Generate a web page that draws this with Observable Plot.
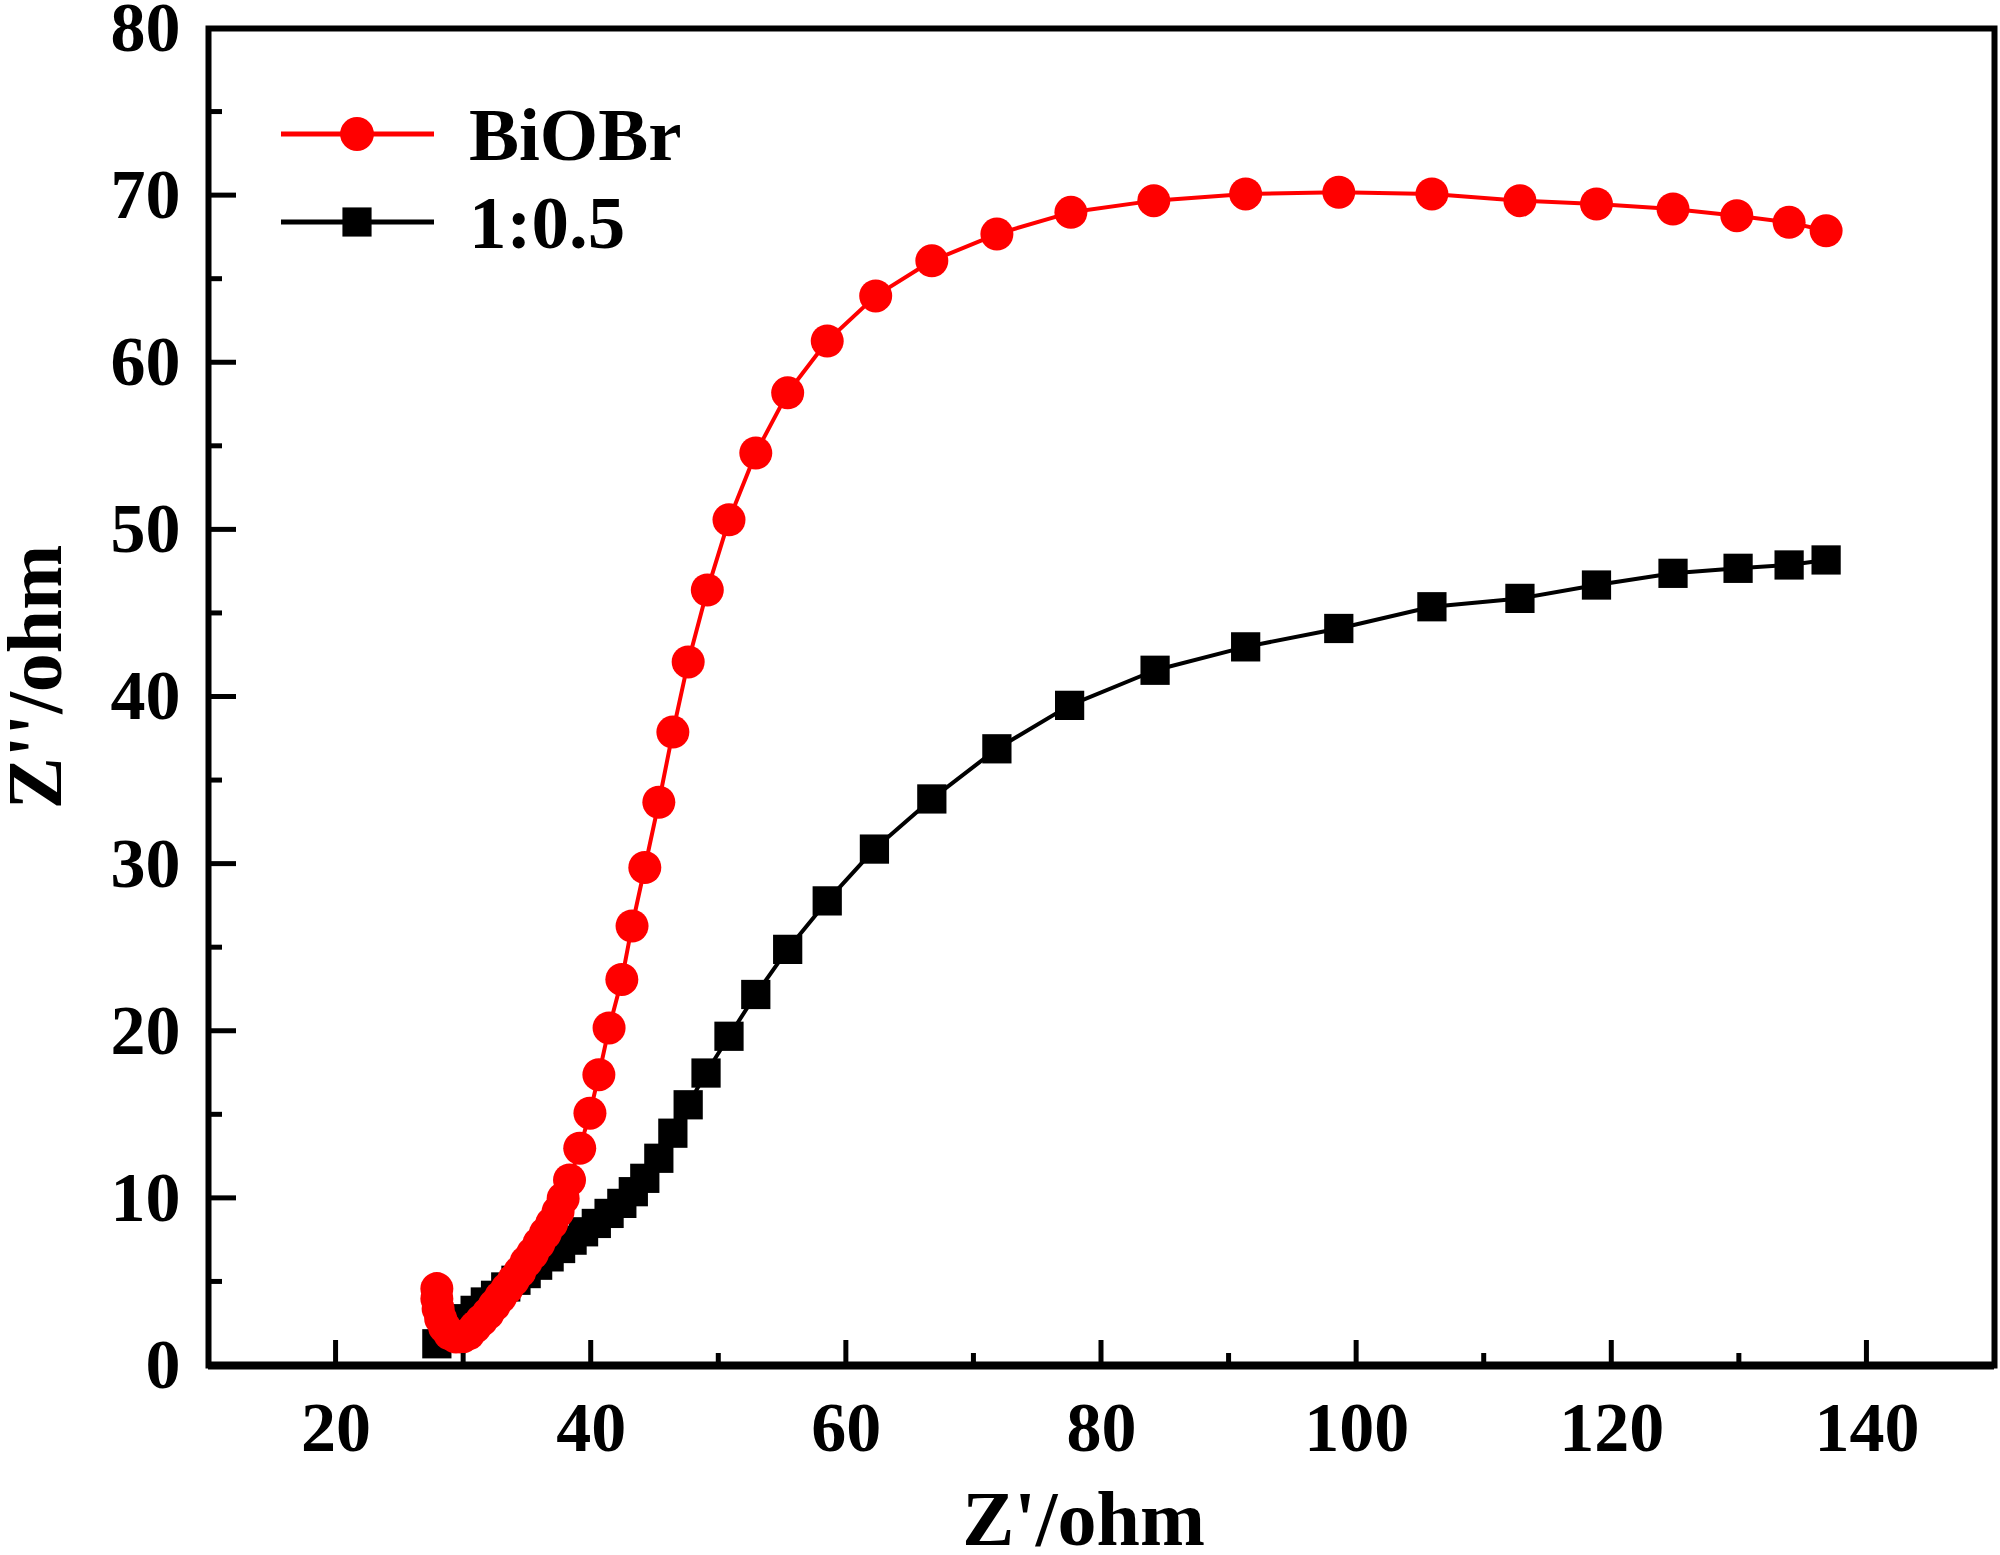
<!DOCTYPE html>
<html><head><meta charset="utf-8">
<script src="https://cdn.jsdelivr.net/npm/d3@7"></script>
<script src="https://cdn.jsdelivr.net/npm/@observablehq/plot@0.6"></script>
<style>body{margin:0;background:#fff}</style>
</head><body><div id="chart"></div>
<script>
const seriesNames = ["BiOBr", "1:0.5"];
const seriesColors = ["#ff0000", "#000000"];
const seriesSymbols = ["circle", "square"];

const biobrX = [27.9,27.9,28.0,28.2,28.5,28.9,29.4,29.9,30.4,30.9,31.4,31.9,32.4,32.9,33.4,33.9,34.4,34.9,35.4,35.9,36.4,36.9,37.4,37.8,38.3,39.1,39.9,40.6,41.4,42.4,43.2,44.2,45.3,46.4,47.6,49.1,50.8,52.9,55.4,58.5,62.3,66.7,71.8,77.6,84.1,91.3,98.6,105.9,112.8,118.8,124.8,129.8,133.9,136.8];
const biobrY = [4.6,4.0,3.4,2.8,2.3,1.9,1.7,1.7,1.9,2.3,2.7,3.1,3.6,4.1,4.6,5.1,5.6,6.2,6.7,7.3,7.9,8.5,9.2,10.0,11.1,13.0,15.1,17.4,20.2,23.1,26.3,29.8,33.7,37.9,42.1,46.4,50.6,54.6,58.2,61.3,64.0,66.1,67.7,69.0,69.7,70.1,70.2,70.1,69.7,69.5,69.2,68.8,68.4,67.9];

const ratioX = [27.9,28.5,29.3,30.1,30.9,31.7,32.5,33.3,34.1,34.9,35.8,36.7,37.6,38.5,39.4,40.4,41.4,42.4,43.3,44.2,45.3,46.4,47.6,49.0,50.8,52.9,55.4,58.5,62.2,66.7,71.8,77.5,84.2,91.3,98.6,105.9,112.8,118.8,124.8,129.9,133.9,136.8];
const ratioY = [1.3,1.8,2.3,2.8,3.3,3.8,4.2,4.7,5.1,5.5,6.0,6.5,7.0,7.5,8.0,8.5,9.1,9.7,10.4,11.2,12.4,13.9,15.6,17.5,19.7,22.2,24.9,27.8,30.9,33.9,36.9,39.5,41.6,43.0,44.1,45.4,45.9,46.7,47.4,47.7,47.9,48.2];

const xTicks = [20, 40, 60, 80, 100, 120, 140];
const xMinorTicks = [30, 50, 70, 90, 110, 130];
const yTicks = [0, 10, 20, 30, 40, 50, 60, 70, 80];
const yMajorInner = [10, 20, 30, 40, 50, 60, 70];
const yMinorTicks = [5, 15, 25, 35, 45, 55, 65, 75];
const xDomain = [10, 150];
const yDomain = [0, 80];
const xLabel = "Z'/ohm";
const yLabel = "Z''/ohm";

const biobr = biobrX.map((x, i) => ({x, y: biobrY[i]}));
const ratio = ratioX.map((x, i) => ({x, y: ratioY[i]}));

function innerTicks(index, scales) {
  const g = d3.create("svg:g").attr("stroke", "#000").attr("stroke-width", 5);
  const yb = scales.y(yDomain[0]), xl = scales.x(xDomain[0]);
  for (const t of xTicks) g.append("line").attr("x1", scales.x(t)).attr("x2", scales.x(t)).attr("y1", yb).attr("y2", yb - 25);
  for (const t of xMinorTicks) g.append("line").attr("x1", scales.x(t)).attr("x2", scales.x(t)).attr("y1", yb).attr("y2", yb - 12);
  for (const t of yMajorInner) g.append("line").attr("y1", scales.y(t)).attr("y2", scales.y(t)).attr("x1", xl).attr("x2", xl + 28);
  for (const t of yMinorTicks) g.append("line").attr("y1", scales.y(t)).attr("y2", scales.y(t)).attr("x1", xl).attr("x2", xl + 14);
  return g.node();
}

function legend(index, scales, values, dims) {
  const g = d3.create("svg:g");
  const x0 = dims.marginLeft + 73, rowY = [dims.marginTop + 106, dims.marginTop + 194];
  seriesNames.forEach((name, i) => {
    const y = rowY[i];
    g.append("line").attr("x1", x0).attr("x2", x0 + 153).attr("y1", y).attr("y2", y)
      .attr("stroke", seriesColors[i]).attr("stroke-width", 5);
    g.append("path").attr("transform", `translate(${x0 + 76},${y})`)
      .attr("d", d3.symbol(seriesSymbols[i] === "circle" ? d3.symbolCircle : d3.symbolSquare, seriesSymbols[i] === "circle" ? 900 : 850)())
      .attr("fill", seriesColors[i]);
    g.append("text").attr("x", x0 + 188).attr("y", y).attr("dy", "0.35em")
      .attr("text-anchor", "start")
      .attr("fill", "#000").attr("font-size", 75).text(name);
  });
  return g.node();
}

const chart = Plot.plot({
  width: 2000,
  height: 1555,
  marginLeft: 208,
  marginRight: 6,
  marginTop: 28,
  marginBottom: 190,
  style: {fontFamily: "'Liberation Serif', 'Times New Roman', serif", fontWeight: "bold", fontSize: "70px", background: "#fff", color: "#000"},
  x: {domain: xDomain},
  y: {domain: yDomain},
  marks: [
    Plot.axisX({ticks: xTicks, tickSize: 0, tickPadding: 36, label: null}),
    Plot.axisY({ticks: yTicks, tickSize: 0, tickPadding: 28, label: null}),
    Plot.text([xLabel], {frameAnchor: "bottom", dx: -18, dy: 155, lineAnchor: "middle", textAnchor: "middle", fontSize: 78, text: d => d}),
    Plot.text([yLabel], {frameAnchor: "left", dx: -172, dy: -20, rotate: -90, lineAnchor: "middle", textAnchor: "middle", fontSize: 78, text: d => d}),
    Plot.line(ratio, {x: "x", y: "y", stroke: seriesColors[1], strokeWidth: 4}),
    Plot.dot(ratio, {x: "x", y: "y", symbol: "square", r: 16.5, fill: seriesColors[1], stroke: "none"}),
    Plot.line(biobr, {x: "x", y: "y", stroke: seriesColors[0], strokeWidth: 4}),
    Plot.dot(biobr, {x: "x", y: "y", symbol: "circle", r: 16.5, fill: seriesColors[0], stroke: "none"}),
    innerTicks,
    Plot.frame({stroke: "#000", strokeWidth: 6}),
    Plot.ruleY([0], {stroke: "#000", strokeWidth: 8}),
    legend
  ]
});
document.getElementById("chart").append(chart);
</script>
</body></html>
